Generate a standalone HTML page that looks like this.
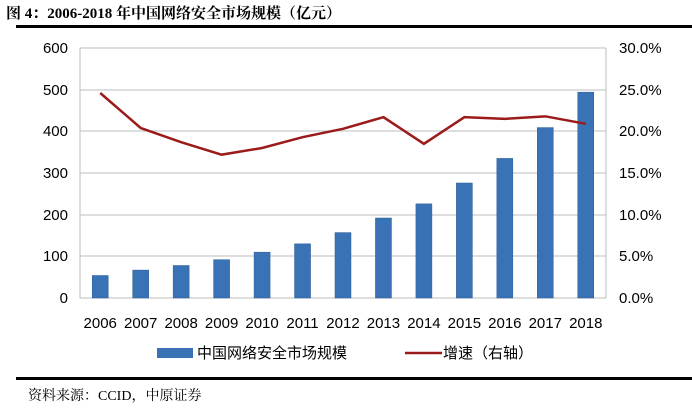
<!DOCTYPE html>
<html><head><meta charset="utf-8"><style>
body{margin:0;background:#fff;width:692px;height:409px;overflow:hidden}
</style></head><body>
<svg width="692" height="409" xmlns="http://www.w3.org/2000/svg" font-family="Liberation Sans, Noto Sans CJK SC, sans-serif">
<text x="6" y="18" font-size="15" font-weight="bold" font-family="Liberation Serif, Noto Serif CJK SC, serif">图 4：2006-2018 年中国网络安全市场规模（亿元）</text>
<rect x="16" y="25" width="676" height="3" fill="#000"/>
<g stroke="#bdbdbd" stroke-width="1">
<line x1="80" y1="48" x2="606" y2="48"/><line x1="80" y1="90" x2="606" y2="90"/>
<line x1="80" y1="131" x2="606" y2="131"/><line x1="80" y1="173" x2="606" y2="173"/>
<line x1="80" y1="215" x2="606" y2="215"/><line x1="80" y1="256" x2="606" y2="256"/>
<line x1="80" y1="48" x2="80" y2="298"/><line x1="606" y1="48" x2="606" y2="298"/>
<line x1="80" y1="298" x2="606" y2="298"/>
</g>
<g font-size="15" fill="#000" text-anchor="end">
<text x="68" y="53">600</text><text x="68" y="95">500</text><text x="68" y="136">400</text>
<text x="68" y="178">300</text><text x="68" y="220">200</text><text x="68" y="261">100</text><text x="68" y="303">0</text>
</g>
<g font-size="15" fill="#000">
<text x="619" y="53">30.0%</text><text x="619" y="95">25.0%</text><text x="619" y="136">20.0%</text>
<text x="619" y="178">15.0%</text><text x="619" y="220">10.0%</text><text x="619" y="261">5.0%</text><text x="619" y="303">0.0%</text>
</g>
<g fill="#3a73b5" stroke="#2a5a94" stroke-width="0.5" id="bars"></g>
<polyline id="ln" fill="none" stroke="#9b1b1b" stroke-width="2.5"/>
<g font-size="15" text-anchor="middle" id="yrs"></g>
<rect x="157" y="348" width="36" height="10" fill="#3a73b5"/>
<text x="197" y="358" font-size="15">中国网络安全市场规模</text>
<line x1="405" y1="353" x2="442" y2="353" stroke="#9b1b1b" stroke-width="2.5"/>
<text x="443" y="358" font-size="15">增速（右轴）</text>
<rect x="16" y="377" width="676" height="3" fill="#000"/>
<text x="28" y="400" font-size="14" font-family="Liberation Serif, Noto Serif CJK SC, serif">资料来源：CCID，中原证券</text>
<script>
var v=[54,67,78,92,110,130,157,192,226,276,335,409,494];
var g=[24.6,20.4,18.7,17.2,18.0,19.3,20.3,21.7,18.5,21.7,21.5,21.8,20.9];
var b=document.getElementById('bars'),y=document.getElementById('yrs'),pts=[],ns='http://www.w3.org/2000/svg';
for(var i=0;i<13;i++){var cx=80+40.46*(i+0.5);var h=v[i]*250/600;
var r=document.createElementNS(ns,'rect');r.setAttribute('x',cx-8);r.setAttribute('y',298-h);r.setAttribute('width',16);r.setAttribute('height',h);b.appendChild(r);
var t=document.createElementNS(ns,'text');t.setAttribute('x',cx);t.setAttribute('y',328);t.textContent=2006+i;y.appendChild(t);
pts.push(cx+','+(298-g[i]*250/30));}
document.getElementById('ln').setAttribute('points',pts.join(' '));
</script>
</svg>
</body></html>
